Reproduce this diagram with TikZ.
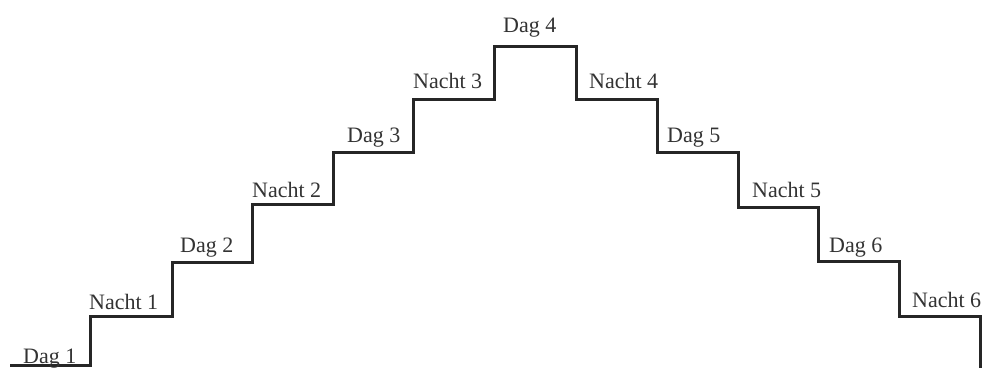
\documentclass[tikz,border=0pt]{standalone}
\usepackage{fontspec}
\setmainfont{Liberation Serif}
\begin{document}
\begin{tikzpicture}[x=1pt,y=-1pt,
  stair/.style={line width=3pt,draw=black!85,line join=miter},
  lbl/.style={anchor=base west,inner sep=0pt,text=black!80,font=\fontsize{22}{24}\selectfont}]
\useasboundingbox (0,0) rectangle (988,367);
% corner coordinates
\coordinate (p0) at (10,365);
\coordinate (p1) at (90,365);
\coordinate (p2) at (90,316);
\coordinate (p3) at (172,316);
\coordinate (p4) at (172,262);
\coordinate (p5) at (252,262);
\coordinate (p6) at (252,204);
\coordinate (p7) at (333,204);
\coordinate (p8) at (333,152);
\coordinate (p9) at (413,152);
\coordinate (p10) at (413,99);
\coordinate (p11) at (494,99);
\coordinate (p12) at (494,46);
\coordinate (p13) at (576,46);
\coordinate (p14) at (576,99);
\coordinate (p15) at (657,99);
\coordinate (p16) at (657,152);
\coordinate (p17) at (738,152);
\coordinate (p18) at (738,207);
\coordinate (p19) at (818,207);
\coordinate (p20) at (818,261);
\coordinate (p21) at (899,261);
\coordinate (p22) at (899,316);
\coordinate (p23) at (980,316);
\coordinate (p24) at (980,368);
\draw[stair] (p0) -- (p1) -- (p2) -- (p3) -- (p4) -- (p5) -- (p6) -- (p7) -- (p8)
  -- (p9) -- (p10) -- (p11) -- (p12) -- (p13) -- (p14) -- (p15) -- (p16)
  -- (p17) -- (p18) -- (p19) -- (p20) -- (p21) -- (p22) -- (p23) -- (p24);
% labels
\node[lbl] (d1) at (23,363) {Dag 1};
\node[lbl] (n1) at (89,309) {Nacht 1};
\node[lbl] (d2) at (180,252) {Dag 2};
\node[lbl] (n2) at (252,197) {Nacht 2};
\node[lbl] (d3) at (347,142) {Dag 3};
\node[lbl] (n3) at (413,88) {Nacht 3};
\node[lbl] (d4) at (503,32) {Dag 4};
\node[lbl] (n4) at (589,88) {Nacht 4};
\node[lbl] (d5) at (667,142) {Dag 5};
\node[lbl] (n5) at (752,197) {Nacht 5};
\node[lbl] (d6) at (829,252) {Dag 6};
\node[lbl] (n6) at (912,307) {Nacht 6};
\end{tikzpicture}
\end{document}
